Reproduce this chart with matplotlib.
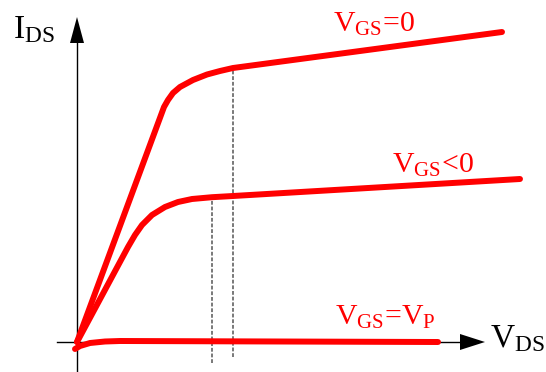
import matplotlib
matplotlib.use("Agg")
import matplotlib.pyplot as plt

plt.rcParams['font.family'] = ['Liberation Serif', 'DejaVu Serif']
plt.rcParams['mathtext.fontset'] = 'custom'
plt.rcParams['mathtext.rm'] = 'Liberation Serif'
plt.rcParams['mathtext.it'] = 'Liberation Serif:italic'

# Output characteristics of a JFET (arbitrary units)
vds_0 = [0.0, 8.7, 9.1, 9.6, 10.3, 11.6, 13.0, 14.3, 15.6, 42.5]
ids_0 = [0.0, 23.5, 24.2, 24.9, 25.5, 26.2, 26.75, 27.1, 27.4, 31.0]

vds_neg = [0.0, 5.1, 5.8, 6.5, 7.5, 8.8, 10.1, 11.5, 13.5, 15.6, 44.3]
ids_neg = [0.0, 9.5, 10.7, 11.7, 12.7, 13.5, 14.0, 14.3, 14.48, 14.6, 16.3]

vds_p = [-0.2, 0.3, 1.3, 2.8, 4.3, 36.1]
ids_p = [-0.7, -0.4, -0.1, 0.05, 0.1, 0.0]

# Pinch-off voltages and the extent of the guide lines
vsat = [13.5, 15.6]
isat = [14.48, 27.4]
guide_bottom = [-2.1, -1.5]

labels = ['$\\mathrm{V_{GS}}$=0', '$\\mathrm{V_{GS}}$<0', '$\\mathrm{V_{GS}}$=$\\mathrm{V_P}$']
label_pos = [(25.6, 31.0), (31.5, 16.9), (25.8, 1.7)]

fig = plt.figure(figsize=(5.46, 3.72), dpi=100)
ax = fig.add_axes([0, 0, 1, 1])
ax.set_xlim(-7.7, 46.9)
ax.set_ylim(-3.0, 34.2)
ax.axis('off')

# Axes with arrowheads
ax.plot([0, 0], [-3.0, 30.0], color='black', lw=1.0, zorder=1)
ax.fill([-0.7, 0.7, 0], [29.9, 29.9, 32.5], color='black', lw=0, zorder=1)
ax.plot([-2.0, 38.4], [0, 0], color='black', lw=1.0, zorder=1)
ax.fill([38.3, 38.3, 40.8], [-0.8, 0.8, 0], color='black', lw=0, zorder=1)

# Pinch-off guide lines
for x, top, bot in zip(vsat, isat, guide_bottom):
    ax.plot([x, x], [bot, top], color='#555555', lw=1.1, ls=(0, (2.5, 1.2)), zorder=2)

red = '#ff0000'
for xs, ys in [(vds_0, ids_0), (vds_neg, ids_neg), (vds_p, ids_p)]:
    ax.plot(xs, ys, color=red, lw=4.3, solid_capstyle='round',
            solid_joinstyle='round', zorder=3)

for text, (x, y) in zip(labels, label_pos):
    ax.text(x, y, text, color=red, fontsize=21.5, ha='left', va='baseline')

ax.text(-6.4, 30.4, '$\\mathrm{I_{DS}}$', color='black', fontsize=24,
        ha='left', va='baseline')
ax.text(41.3, -0.5, '$\\mathrm{V_{DS}}$', color='black', fontsize=24,
        ha='left', va='baseline')

fig.savefig('out.png', dpi=100)
